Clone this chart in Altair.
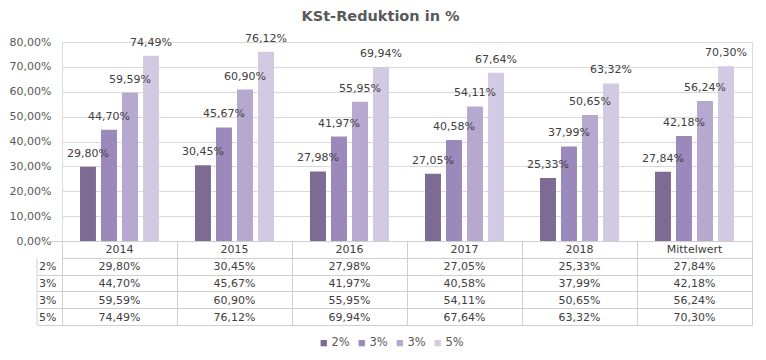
import altair as alt
import pandas as pd

# ---- data ----
categories = ["2014", "2015", "2016", "2017", "2018", "Mittelwert"]
series_keys = ["s1", "s2", "s3", "s4"]
series_names = ["2%", "3%", "3%", "5%"]
values_2 = [29.80, 30.45, 27.98, 27.05, 25.33, 27.84]
values_3a = [44.70, 45.67, 41.97, 40.58, 37.99, 42.18]
values_3b = [59.59, 60.90, 55.95, 54.11, 50.65, 56.24]
values_5 = [74.49, 76.12, 69.94, 67.64, 63.32, 70.30]
y_ticks = [0, 10, 20, 30, 40, 50, 60, 70, 80]

colors = ["#7e6b94", "#9c89bb", "#b6a8cf", "#d2cae2"]
FONT = "DejaVu Sans"
TXT = "#404040"
AX = "#595959"
GRID = "#d9d9d9"
BORDER = "#cfcfcf"

rows = []
for si, (k, n, vals) in enumerate(zip(series_keys, series_names,
                                      [values_2, values_3a, values_3b, values_5])):
    for c, v in zip(categories, vals):
        rows.append({"cat": c, "key": k, "name": n, "value": v, "row": si + 1})
df = pd.DataFrame(rows)
header = pd.DataFrame({"cat": categories, "row": [0] * len(categories), "txt": categories})
rowlabels = pd.DataFrame({"row": [1, 2, 3, 4], "txt": series_names})
one = pd.DataFrame({"a": [0]})

fmt = "replace(format(datum.value, '.2f'), '.', ',') + '%'"
legend_expr = " : ".join(
    [f"datum.value == '{k}' ? '{n}'" for k, n in zip(series_keys[:-1], series_names[:-1])]
) + f" : '{series_names[-1]}'"

# ---- bar chart ----
x_bar = alt.X("cat:N", sort=categories, axis=None,
              scale=alt.Scale(paddingInner=0.313, paddingOuter=0.1565))
xoff = alt.XOffset("key:N", sort=series_keys,
                   scale=alt.Scale(paddingInner=0.24, paddingOuter=0))
y_axis = alt.Axis(values=y_ticks, labelExpr=fmt, grid=True, domain=False,
                  ticks=False, labelPadding=11, labelFontSize=11, labelOverlap=False,
                  tickCount=9, labelColor=AX, labelFont=FONT, gridColor=GRID, title=None)
y_bar = alt.Y("value:Q", scale=alt.Scale(domain=[0, 80], nice=False), axis=y_axis)
color = alt.Color("key:N", scale=alt.Scale(domain=series_keys, range=colors),
                  legend=alt.Legend(orient="none", legendX=256, legendY=295,
                                    direction="horizontal", title=None,
                                    symbolType="square", symbolSize=40,
                                    symbolStrokeWidth=0,
                                    labelExpr=legend_expr, labelFontSize=11.5,
                                    labelFont=FONT, labelColor=AX,
                                    columnPadding=6, labelOffset=2))

bars = alt.Chart(df).mark_bar().encode(x=x_bar, xOffset=xoff, y=y_bar, color=color)
bar_labels = alt.Chart(df).transform_calculate(txt=fmt).mark_text(
    dy=-13, baseline="middle", fontSize=11, font=FONT, color=TXT
).encode(x=x_bar, xOffset=xoff, y=y_bar, text="txt:N")

top = alt.layer(bars, bar_labels).properties(width=690, height=199)

# ---- data table ----
x_tab = alt.X("cat:N", sort=categories,
              scale=alt.Scale(paddingInner=0, paddingOuter=0),
              axis=alt.Axis(grid=True, tickBand="extent", labels=False, ticks=False,
                            domain=False, title=None, gridColor=BORDER))
y_tab = alt.Y("row:O", scale=alt.Scale(domain=[0, 1, 2, 3, 4], paddingInner=0, paddingOuter=0),
              axis=alt.Axis(grid=True, tickBand="extent", labels=False, ticks=True,
                            tickSize=25,
                            tickColor={"condition": {"test": "datum.value == 0",
                                                     "value": "transparent"},
                                       "value": BORDER},
                            domain=False, title=None, gridColor=BORDER))

cells = alt.Chart(df).transform_calculate(txt=fmt).mark_text(
    fontSize=11, font=FONT, color=TXT, dy=1
).encode(x=x_tab, y=y_tab, text="txt:N")
head = alt.Chart(header).mark_text(fontSize=11, font=FONT, color=TXT, dy=1).encode(
    x=x_tab, y=y_tab, text="txt:N")
rlab = alt.Chart(rowlabels).mark_text(align="left", fontSize=11, font=FONT, color=TXT, dy=1).encode(
    x=alt.value(-23), y=y_tab, text="txt:N")
leftb = alt.Chart(one).mark_rule(color=BORDER).encode(
    x=alt.value(-25), y=alt.value(16.8), y2=alt.value(84))

table = alt.layer(cells, head, rlab, leftb).properties(width=690, height=84)

chart = alt.vconcat(top, table, spacing=0, bounds="flush").resolve_scale(
    x="independent", y="independent"
).properties(
    title=alt.TitleParams("KSt-Reduktion in %", anchor="middle", fontSize=14.5,
                          fontWeight="bold", color=AX, font=FONT, offset=8),
    padding={"left": 0, "top": 0, "right": 0, "bottom": 0},
    background="white",
).configure_view(stroke=None).configure(font=FONT)

chart.save("out.html", embed_options={"renderer": "svg", "actions": False})
